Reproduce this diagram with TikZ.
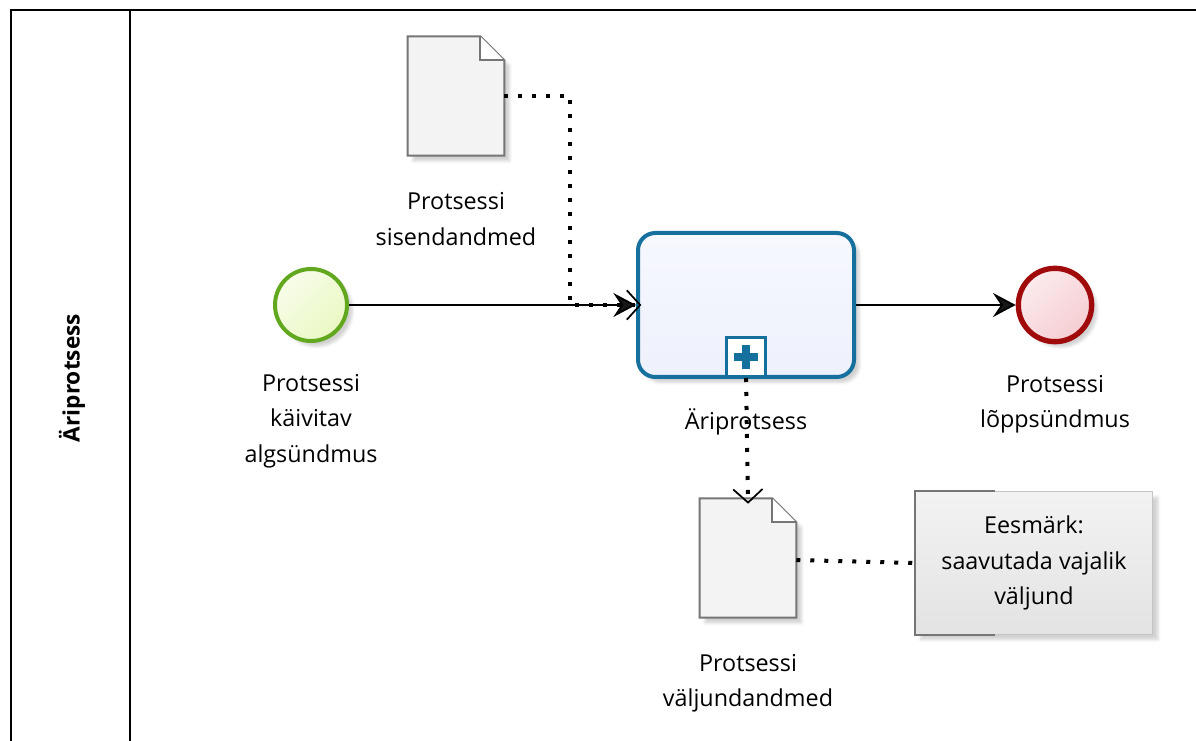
\documentclass[tikz,border=0pt]{standalone}
\usepackage{fontspec}
\setmainfont{Open Sans}
\usetikzlibrary{calc,arrows.meta,positioning,shadows.blur}

\definecolor{startline}{HTML}{62A81E}
\definecolor{startfill}{HTML}{EAF8C2}
\definecolor{endline}{HTML}{A00A0A}
\definecolor{endfill}{HTML}{F5CDD2}
\definecolor{taskline}{HTML}{16709E}
\definecolor{taskfill}{HTML}{EEF1FD}
\definecolor{docline}{HTML}{757575}
\definecolor{docfill}{HTML}{F3F3F3}
\definecolor{noteline}{HTML}{C4C4C4}

\begin{document}
\begin{tikzpicture}[x=0.75pt, y=-0.75pt,
  every node/.style={font=\fontsize{17.5}{26.5}\selectfont, align=center, inner sep=0pt},
  lbl/.style={text=black},
  softshadow/.style={blur shadow={shadow xshift=4pt, shadow yshift=-4pt, shadow opacity=18}},
  evt/.style={circle, minimum size=#1, softshadow},
  docobj/.style={minimum width=72pt, minimum height=89pt},
  seqflow/.style={draw, line width=1.3pt, -{Stealth[length=17pt, width=18pt, inset=6pt]}},
  assoc/.style={draw, line width=3pt, dash pattern=on 3pt off 7.5pt},
  assocarrow/.style={assoc, -{Straight Barb[length=10pt, width=22pt, line width=1.3pt, sep=-4pt]}}]
\useasboundingbox (0,0) rectangle (1196,741);

% pool and lane header
\draw[line width=1.5pt] (1196,10) -- (11,10) -- (11,741);
\draw[line width=1.5pt] (130,10) -- (130,741);
\node[rotate=90, font=\fontsize{17}{20}\selectfont\bfseries] (lane) at (72,378) {Äriprotsess};

% events
\node[evt=54pt, draw=startline, line width=3pt, top color=startfill!35!white, bottom color=startfill, shading angle=45] (start) at (311,305) {};
\node[lbl] (startlbl) at (311,421) {Protsessi\\käivitav\\algsündmus};
\node[evt=55pt, draw=endline, line width=4pt, top color=endfill!40!white, bottom color=endfill, shading angle=45] (end) at (1055,305) {};
\node[lbl] (endlbl) at (1055,404) {Protsessi\\lõppsündmus};

% task
\node[rectangle, rounded corners=13pt, minimum width=162pt, minimum height=108pt, draw=taskline, line width=3pt,
  top color=white!50!taskfill, bottom color=taskfill, softshadow] (task) at (746,305) {};
\node[minimum size=29pt, draw=taskline, line width=2.25pt, fill=white, anchor=south] (marker) at ($(task.south)+(0,-1)$) {};
\fill[taskline] ($(marker.center)+(-12,-4)$) rectangle ($(marker.center)+(12,4)$);
\fill[taskline] ($(marker.center)+(-4,-12)$) rectangle ($(marker.center)+(4,12)$);
\node[lbl] (tasklbl) at (746,422) {Äriprotsess};

% data objects
\node[docobj] (dIn) at (456,96) {};
\node[docobj] (dOut) at (748,558) {};
\foreach \d in {dIn,dOut}{
  \draw[docline, line width=1.5pt, fill=docfill, softshadow] (\d.south west) -- (\d.north west) -- ($(\d.north east)+(-24,0)$)
    -- ($(\d.north east)+(0,24)$) -- (\d.south east) -- cycle;
  \draw[docline, line width=1.5pt, fill=white] ($(\d.north east)+(-24,0)$) -- ($(\d.north east)+(-24,24)$) -- ($(\d.north east)+(0,24)$);
}
\node[lbl] (dInlbl) at (456,219) {Protsessi\\sisendandmed};
\node[lbl] (dOutlbl) at (748,683) {Protsessi\\väljundandmed};

% annotation
\node[minimum width=178pt, minimum height=107pt, draw=noteline, line width=1pt, top color=white!90!gray, bottom color=gray!22,
  softshadow] (note) at (1034,563)
  {Eesmärk:\\saavutada vajalik\\väljund};
\draw[docline, line width=1.5pt] ($(note.north west)+(80,0)$) -- (note.north west) -- (note.south west) -- ($(note.south west)+(80,0)$);

% flows
\draw[seqflow] (start) -- (task);
\draw[seqflow] (task) -- (end);
\draw[assocarrow] (dIn.east) -- ++(66,0) |- (task.west);
\draw[assocarrow] (marker.south) -- (dOut.north);
\draw[assoc] ($(dOut.east)+(0,2)$) -- (note.west);
\end{tikzpicture}
\end{document}
